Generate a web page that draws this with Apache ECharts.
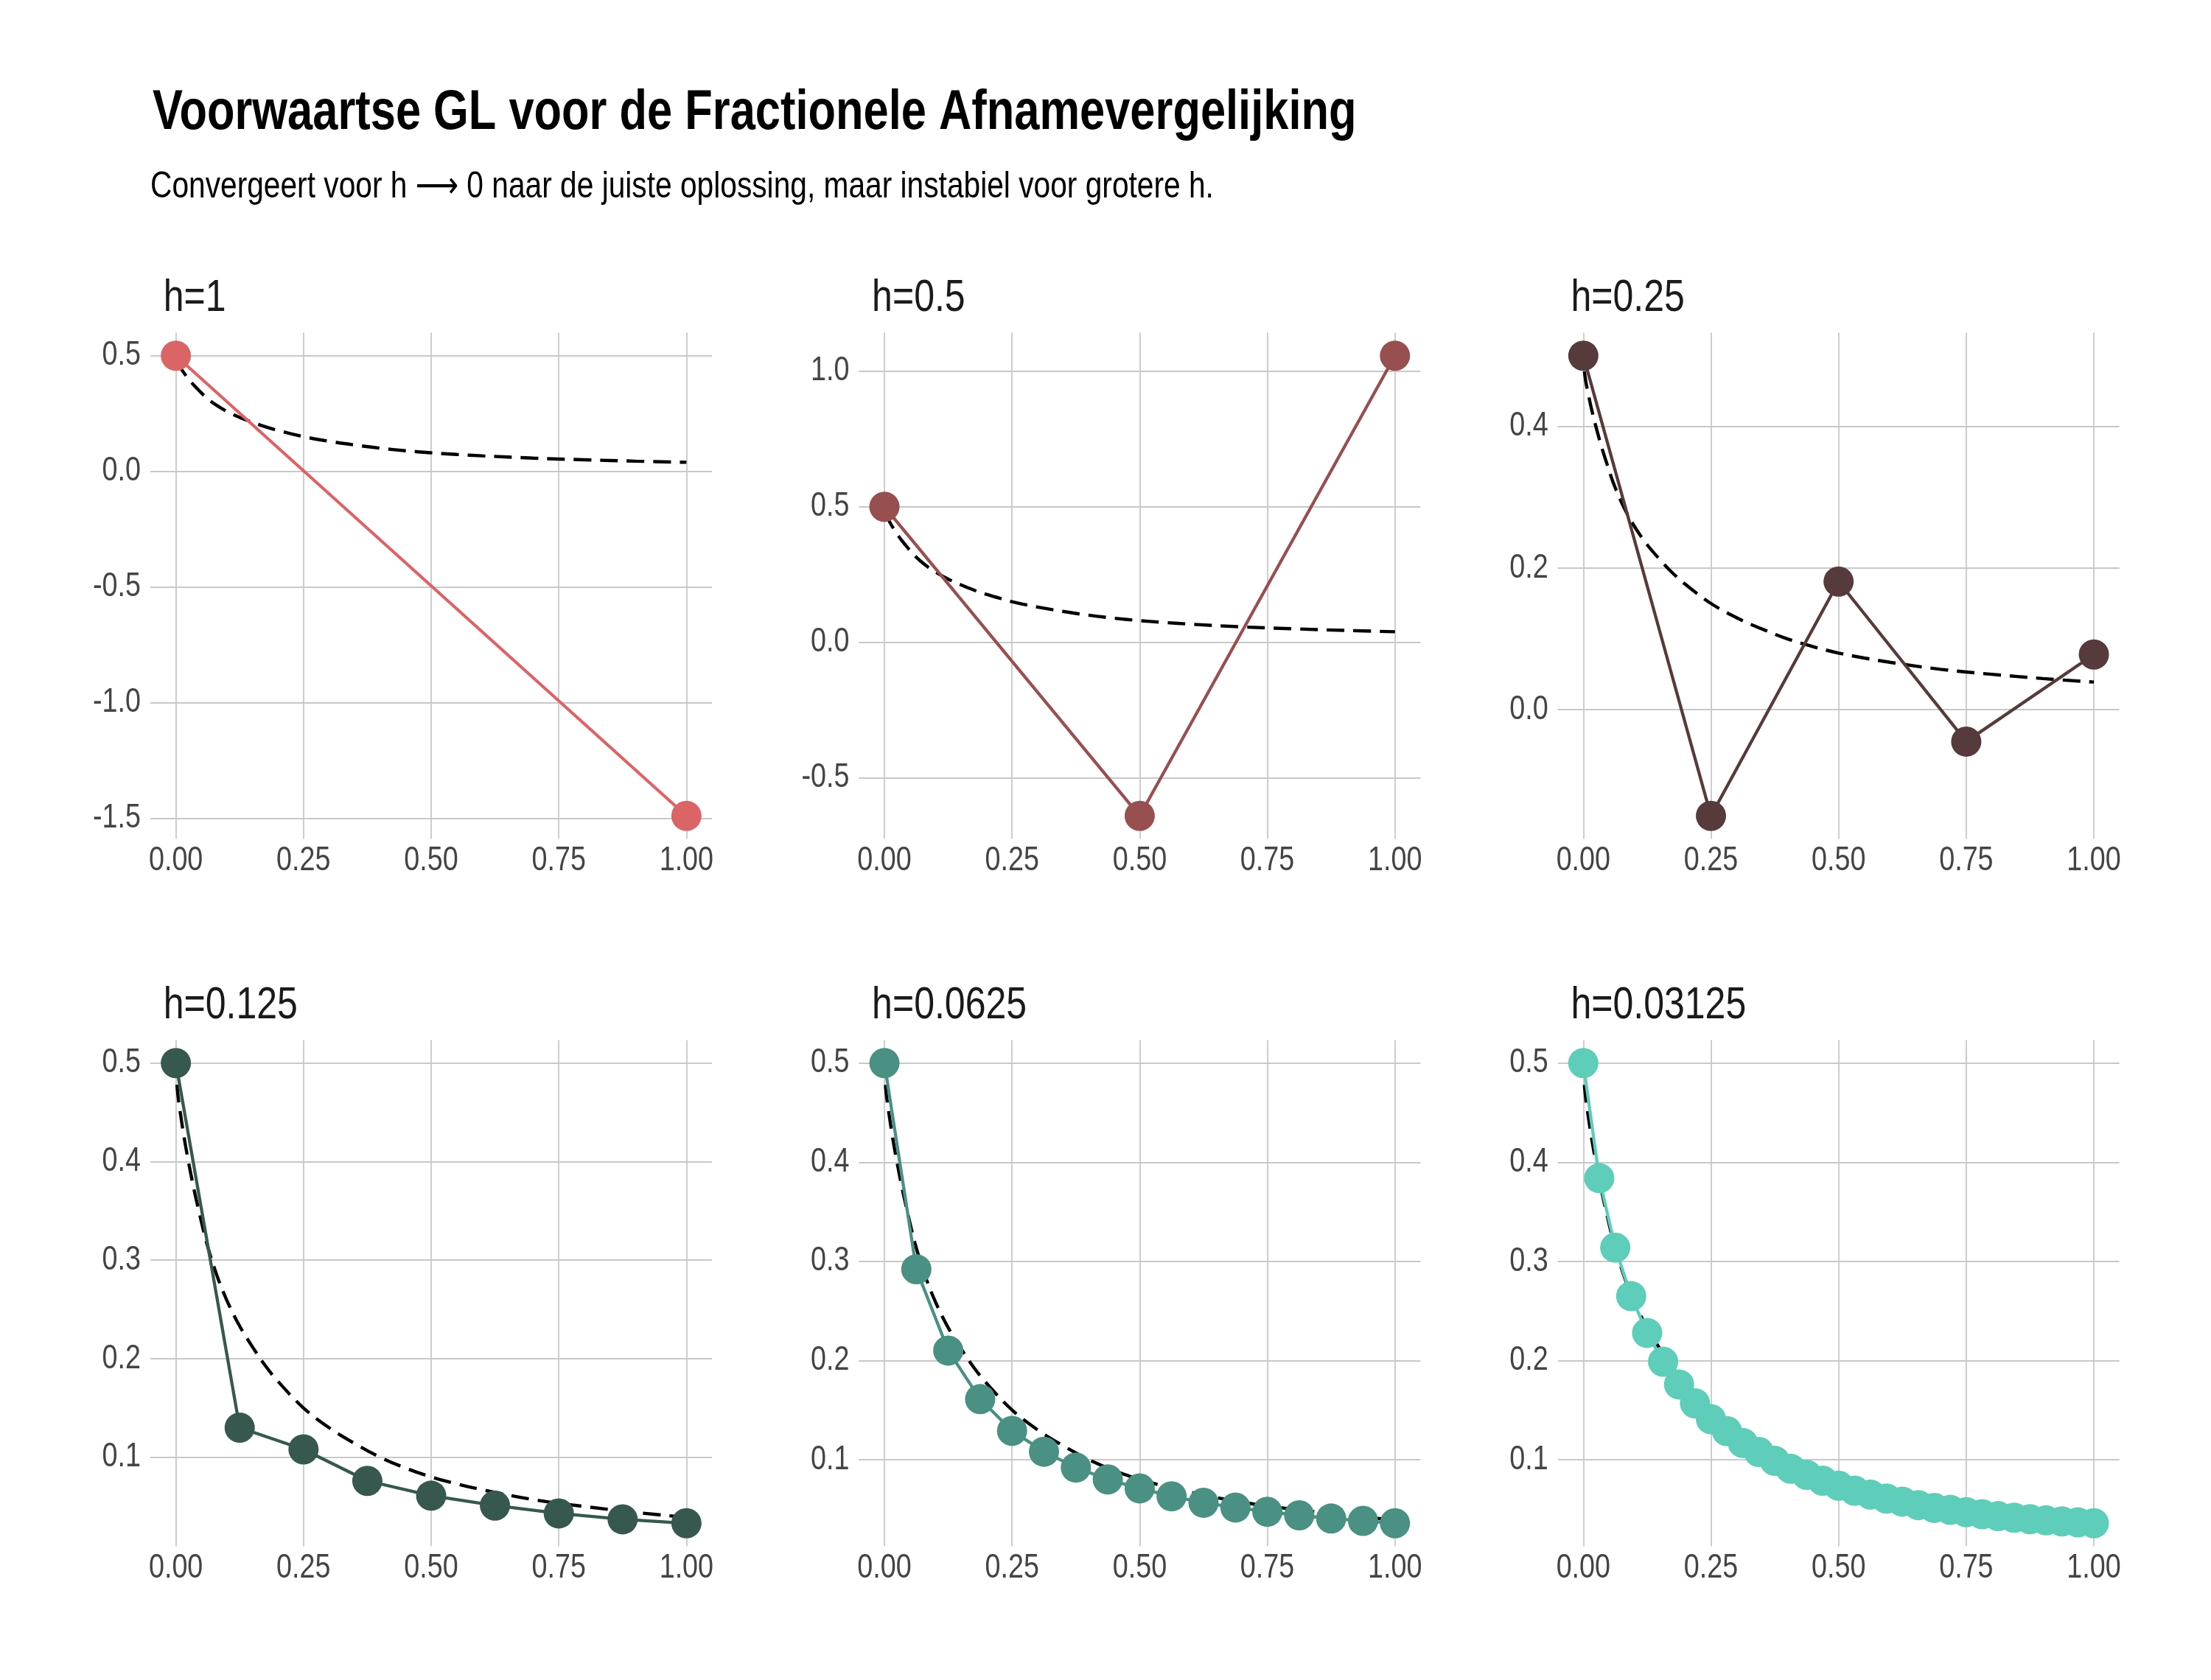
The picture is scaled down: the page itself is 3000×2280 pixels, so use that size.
<!DOCTYPE html>
<html>
<head>
<meta charset="utf-8">
<script src="https://cdn.jsdelivr.net/npm/echarts@6/dist/echarts.min.js"></script>
<style>
html,body{margin:0;padding:0;background:#ffffff;}
#chart{width:3000px;height:2280px;}
</style>
</head>
<body>
<div id="chart"></div>
<script>
// ---------------- data ----------------
const mainTitle = 'Voorwaartse GL voor de Fractionele Afnamevergelijking';
const subTitle = 'Convergeert voor h \u27F6 0 naar de juiste oplossing, maar instabiel voor grotere h.';
const panelTitles = ['h=1', 'h=0.5', 'h=0.25', 'h=0.125', 'h=0.0625', 'h=0.03125'];

// exact (reference) solution, dashed curve
const exactX = [0.002, 0.005, 0.01, 0.015, 0.0235, 0.035, 0.045, 0.06, 0.08, 0.1, 0.125, 0.15, 0.175, 0.2, 0.25, 0.3, 0.35, 0.4, 0.45, 0.5, 0.55, 0.6, 0.7, 0.8, 0.9, 1.0];
const exactY = [0.478, 0.463, 0.445, 0.428, 0.403, 0.373, 0.350, 0.318, 0.285, 0.259, 0.233, 0.212, 0.193, 0.177, 0.150, 0.130, 0.114, 0.100, 0.089, 0.080, 0.073, 0.067, 0.057, 0.050, 0.044, 0.039];

// GL approximations per step size
const xH1 = [0, 1];
const yH1 = [0.5, -1.49];
const xH2 = [0, 0.5, 1];
const yH2 = [0.5, -0.64, 1.057];
const xH3 = [0, 0.25, 0.5, 0.75, 1];
const yH3 = [0.5, -0.15, 0.181, -0.045, 0.078];
const xH4 = [0, 0.125, 0.25, 0.375, 0.5, 0.625, 0.75, 0.875, 1];
const yH4 = [0.5, 0.130, 0.108, 0.076, 0.061, 0.051, 0.043, 0.037, 0.033];
const xH5 = [0, 0.0625, 0.125, 0.1875, 0.25, 0.3125, 0.375, 0.4375, 0.5, 0.5625, 0.625, 0.6875, 0.75, 0.8125, 0.875, 0.9375, 1];
const yH5 = [0.5, 0.292, 0.210, 0.161, 0.129, 0.108, 0.092, 0.080, 0.071, 0.063, 0.0565, 0.0517, 0.0474, 0.0438, 0.0406, 0.0382, 0.0358];
const xH6 = [0, 0.03125, 0.0625, 0.09375, 0.125, 0.15625, 0.1875, 0.21875, 0.25, 0.28125, 0.3125, 0.34375, 0.375, 0.40625, 0.4375, 0.46875, 0.5, 0.53125, 0.5625, 0.59375, 0.625, 0.65625, 0.6875, 0.71875, 0.75, 0.78125, 0.8125, 0.84375, 0.875, 0.90625, 0.9375, 0.96875, 1];
const yH6 = [0.5, 0.384, 0.314, 0.265, 0.228, 0.199, 0.176, 0.157, 0.141, 0.129, 0.117, 0.108, 0.099, 0.091, 0.085, 0.079, 0.074, 0.069, 0.065, 0.061, 0.0579, 0.0544, 0.0516, 0.0496, 0.0473, 0.0452, 0.0433, 0.0417, 0.0402, 0.0390, 0.0380, 0.0370, 0.0361];

const xTicks = [0, 0.25, 0.5, 0.75, 1];
const yTicks1 = [-1.5, -1.0, -0.5, 0.0, 0.5];
const yTicks2 = [-0.5, 0.0, 0.5, 1.0];
const yTicks3 = [0.0, 0.2, 0.4];
const yTicks4 = [0.1, 0.2, 0.3, 0.4, 0.5];
const yTicks5 = [0.1, 0.2, 0.3, 0.4, 0.5];
const yTicks6 = [0.1, 0.2, 0.3, 0.4, 0.5];

const panelColors = ['#DB6467', '#974F50', '#573A3B', '#36584F', '#4A9083', '#5ECDB9'];

// ---------------- layout / style ----------------
const FONT = "'Liberation Sans', Arial, 'DejaVu Sans', sans-serif";
const colLeft = [204, 1165.4, 2113.7];
const rowTop = [451.5, 1411.5];
const plotW = 762;
const plotH = 687;

const xs = [xH1, xH2, xH3, xH4, xH5, xH6];
const ys = [yH1, yH2, yH3, yH4, yH5, yH6];
const yTickSets = [yTicks1, yTicks2, yTicks3, yTicks4, yTicks5, yTicks6];

const zip = (a, b) => a.map((v, i) => [v, b[i]]);

const grids = [], xAxes = [], yAxes = [], series = [];
const titles = [
  { text: mainTitle, left: 207, top: 115.7, padding: 0,
    textStyle: { fontFamily: FONT, fontSize: 76, fontWeight: 'bold', color: '#000000' } },
  { text: subTitle, left: 204, top: 229.4, padding: 0,
    textStyle: { fontFamily: FONT, fontSize: 50, fontWeight: 'normal', color: '#000000' } }
];

for (let i = 0; i < 6; i++) {
  const c = i % 3, r = Math.floor(i / 3);
  grids.push({ left: colLeft[c], top: rowTop[r], width: plotW, height: plotH, containLabel: false });
  titles.push({ text: panelTitles[i], left: colLeft[c] + 17.7, top: rowTop[r] - 76.4, padding: 0,
    textStyle: { fontFamily: FONT, fontSize: 61, fontWeight: 'normal', color: '#1a1a1a' } });
  xAxes.push({
    type: 'value', gridIndex: i, min: -0.05, max: 1.05,
    axisLine: { show: false }, axisTick: { show: false, customValues: xTicks },
    axisLabel: { customValues: xTicks, formatter: v => v.toFixed(2), margin: 7,
      fontFamily: FONT, fontSize: 46, color: '#444444' },
    splitLine: { show: true, lineStyle: { color: '#c8c8c8', width: 1.8 } }
  });
  yAxes.push({
    type: 'value', gridIndex: i,
    min: v => v.min - 0.05 * (v.max - v.min),
    max: v => v.max + 0.05 * (v.max - v.min),
    axisLine: { show: false }, axisTick: { show: false, customValues: yTickSets[i] },
    axisLabel: { customValues: yTickSets[i], formatter: v => v.toFixed(1), margin: 13,
      fontFamily: FONT, fontSize: 46, color: '#444444' },
    splitLine: { show: true, lineStyle: { color: '#c8c8c8', width: 1.8 } }
  });
  series.push({
    type: 'line', xAxisIndex: i, yAxisIndex: i, data: zip(exactX, exactY),
    symbol: 'none', smooth: 0.35, silent: true, z: 2,
    lineStyle: { color: '#000000', width: 4.4, type: [24, 12], cap: 'butt' }
  });
  series.push({
    type: 'line', xAxisIndex: i, yAxisIndex: i, data: zip(xs[i], ys[i]),
    symbol: 'circle', symbolSize: 41, showSymbol: true, z: 3,
    lineStyle: { color: panelColors[i], width: 4.3 },
    itemStyle: { color: panelColors[i] }
  });
}

const chart = echarts.init(document.getElementById('chart'), null, { renderer: 'canvas' });
chart.setOption({
  animation: false,
  backgroundColor: '#ffffff',
  title: titles,
  grid: grids,
  xAxis: xAxes,
  yAxis: yAxes,
  series: series
});

// Narrow (condensed) look of the reference font: compress text horizontally
function condense() {
  const zr = chart.getZr();
  const walk = (el) => {
    if (el instanceof echarts.graphic.Text) {
      const t = el.style && el.style.text;
      const s = t === mainTitle ? 0.808 : (t === subTitle ? 0.814 : 0.82);
      el.originX = (el.style && el.style.x) || 0;
      el.originY = (el.style && el.style.y) || 0;
      el.scaleX = s;
      el.markRedraw();
    }
    if (el.isGroup) el.eachChild(walk);
  };
  zr.storage.getRoots().forEach(walk);
  zr.refreshImmediately();
}
condense();
chart.on('finished', condense);
</script>
</body>
</html>
